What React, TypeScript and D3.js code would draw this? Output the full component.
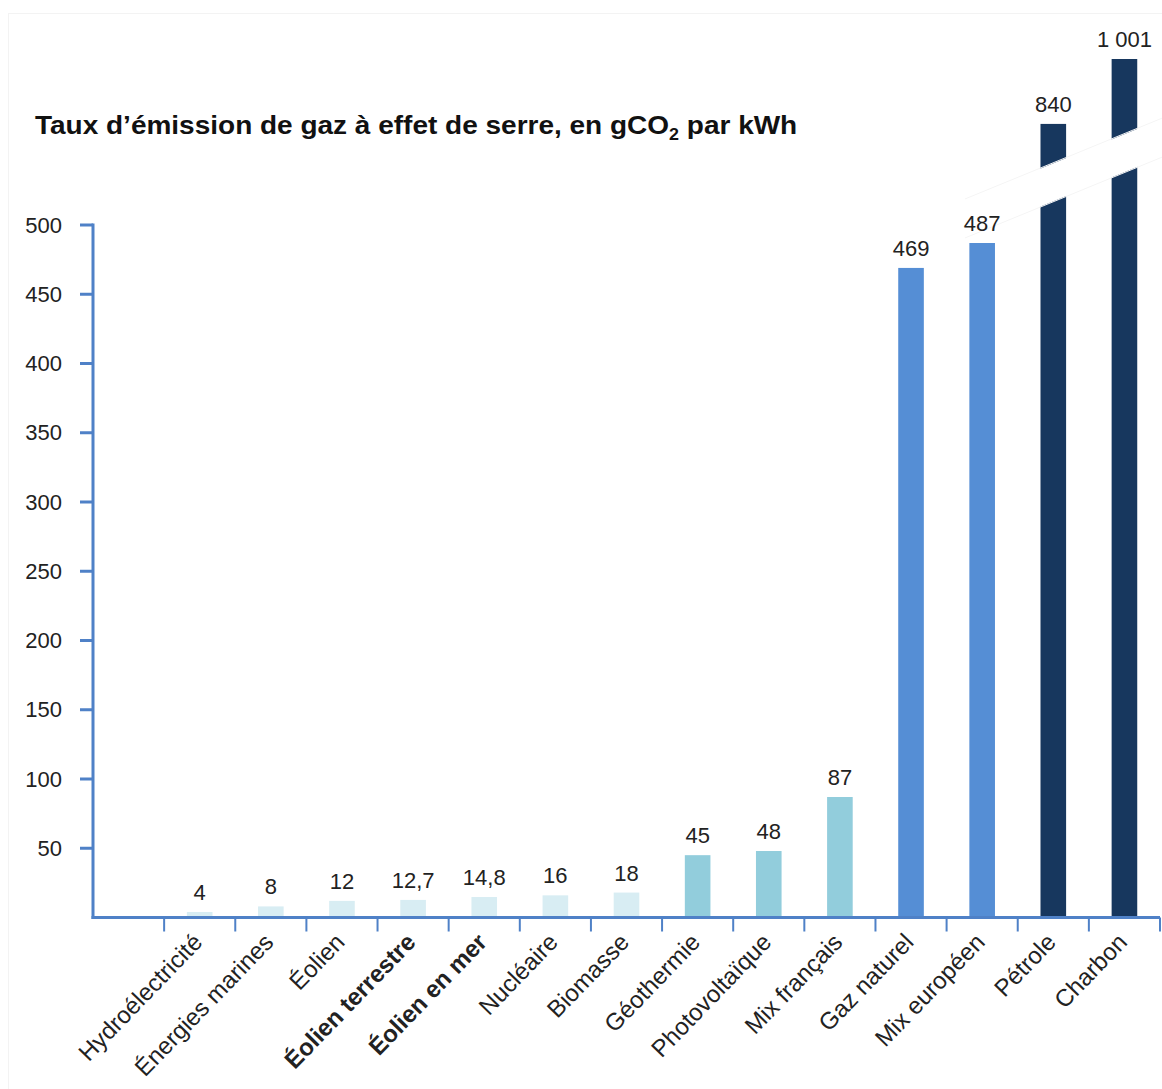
import React, { useEffect } from "react";
import * as d3 from "d3";

const categories = [
  "Hydroélectricité",
  "Énergies marines",
  "Éolien",
  "Éolien terrestre",
  "Éolien en mer",
  "Nucléaire",
  "Biomasse",
  "Géothermie",
  "Photovoltaïque",
  "Mix français",
  "Gaz naturel",
  "Mix européen",
  "Pétrole",
  "Charbon",
];
const values = [4, 8, 12, 12.7, 14.8, 16, 18, 45, 48, 87, 469, 487, 840, 1001];
const valueLabels = ["4", "8", "12", "12,7", "14,8", "16", "18", "45", "48", "87", "469", "487", "840", "1 001"];
const groups = [
  "faible", "faible", "faible", "faible", "faible", "faible", "faible",
  "moyen", "moyen", "moyen",
  "fort", "fort",
  "très fort", "très fort",
];
const boldCategories = ["Éolien terrestre", "Éolien en mer"];
const yTicks = [50, 100, 150, 200, 250, 300, 350, 400, 450, 500];
const brokenDomain = [500, 1001];

const W = 1162;
const H = 1089;
const axisX = 93;
const axisRight = 1160;
const baseY = 917.5;
const top500 = 225;
const FONT = "'Liberation Sans', Arial, sans-serif";

const groupColor: Record<string, string> = {
  faible: "#d8edf3",
  moyen: "#92cddc",
  fort: "#558ed5",
  "très fort": "#17375e",
};
const axisColor = "#4f81c7";

export default function App() {
  useEffect(() => {
    document.body.style.margin = "0";
  }, []);

  const x = d3
    .scaleBand<string>()
    .domain(["", ...categories])
    .range([axisX, axisRight])
    .paddingInner(0.64)
    .paddingOuter(0.32);
  const step = x.step();
  const y = d3.scaleLinear().domain([0, 500]).range([baseY, top500]);
  const yHigh = d3.scaleLinear().domain(brokenDomain).range([261, 59]);
  const yPos = (v: number) => (v > 500 ? yHigh(v) : y(v));

  // break band (diagonal white gap across broken bars)
  const petX = x("Pétrole")!;
  const slope = -0.41;
  const upper = (px: number) => 168 + slope * (px - petX);
  const gap = 39;
  const bx1 = petX - 12;
  const bx2 = x("Charbon")! + x.bandwidth() + 12;
  const bandPts = [
    [bx1, upper(bx1) + 0.5],
    [bx2, upper(bx2) + 0.5],
    [bx2, upper(bx2) + gap - 0.5],
    [bx1, upper(bx1) + gap - 0.5],
  ];
  const lx1 = 965;
  const lx2 = 1162;

  const boundaries = d3.range(1, 16).map((k) => axisX + k * step);

  return (
    <svg width={W} height={H} style={{ display: "block", background: "#fff" }}>
      <rect x={8.5} y={13.5} width={1160} height={1080} fill="none" stroke="#f3f3f3" strokeWidth={1} />
      <g transform="translate(35,134) scale(1.12,1)">
        <text x={0} y={0} fontFamily={FONT} fontWeight="bold" fontSize={25} fill="#111">
          Taux d’émission de gaz à effet de serre, en gCO
          <tspan fontSize={16} dy={6}>2</tspan>
          <tspan dy={-6}> par kWh</tspan>
        </text>
      </g>

      {/* bars */}
      {categories.map((c, i) => (
        <rect
          key={c}
          x={x(c)}
          y={yPos(values[i])}
          width={x.bandwidth()}
          height={baseY - yPos(values[i])}
          fill={groupColor[groups[i]]}
        />
      ))}

      {/* break band */}
      <polygon points={bandPts.map((p) => p.join(",")).join(" ")} fill="#fff" />
      <line x1={lx1} y1={upper(lx1)} x2={lx2} y2={upper(lx2)} stroke="#f5f5f5" strokeWidth={1} />
      <line x1={lx1} y1={upper(lx1) + gap} x2={lx2} y2={upper(lx2) + gap} stroke="#f5f5f5" strokeWidth={1} />

      {/* value labels */}
      {categories.map((c, i) => (
        <text
          key={"v" + c}
          x={x(c)! + x.bandwidth() / 2}
          y={yPos(values[i]) - 12}
          textAnchor="middle"
          fontFamily={FONT}
          fontSize={22}
          fill="#222"
        >
          {valueLabels[i]}
        </text>
      ))}

      {/* y axis */}
      <line x1={axisX} y1={top500 - 1.5} x2={axisX} y2={baseY + 1.5} stroke={axisColor} strokeWidth={3} />
      {yTicks.map((t) => (
        <g key={t}>
          <line x1={axisX - 13} x2={axisX} y1={y(t)} y2={y(t)} stroke={axisColor} strokeWidth={3} />
          <text
            x={62}
            y={y(t)}
            dy="0.35em"
            textAnchor="end"
            fontFamily={FONT}
            fontSize={22}
            fill="#222"
          >
            {t}
          </text>
        </g>
      ))}

      {/* x axis */}
      <line x1={axisX - 1.5} x2={axisRight} y1={baseY} y2={baseY} stroke={axisColor} strokeWidth={3} />
      {boundaries.map((bx, k) => (
        <line key={k} x1={bx} x2={bx} y1={baseY} y2={baseY + 14} stroke={axisColor} strokeWidth={2} />
      ))}
      {categories.map((c) => {
        const cx = x(c)! + x.bandwidth() / 2;
        return (
          <text
            key={"l" + c}
            transform={`translate(${cx + 4},${baseY + 26}) rotate(-46)`}
            textAnchor="end"
            fontFamily={FONT}
            fontSize={24}
            fontWeight={boldCategories.includes(c) ? "bold" : "normal"}
            fill="#222"
          >
            {c}
          </text>
        );
      })}
    </svg>
  );
}
